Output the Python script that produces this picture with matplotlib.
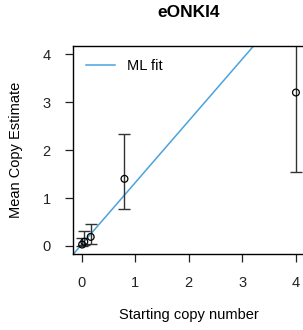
import numpy as np
import matplotlib
matplotlib.use('Agg')
import matplotlib.pyplot as plt

plt.rcParams['font.family'] = ['Liberation Sans', 'DejaVu Sans']

# data
start_copy = [0.01, 0.05, 0.17, 0.8, 4.0]
mean_est = [0.03, 0.09, 0.19, 1.4, 3.2]
lower = [-0.01, 0.02, 0.05, 0.77, 1.55]
upper = [0.17, 0.31, 0.46, 2.33, 5.0]
fit_slope = 1.29
fit_icpt = 0.03

x = np.array(start_copy)
y = np.array(mean_est)
yerr = np.vstack([y - np.array(lower), np.array(upper) - y])

fig = plt.figure(figsize=(3.03, 3.30), dpi=100)
ax = fig.add_axes([0.241, 0.2303, 0.764, 0.6303])

xx = np.array([-1, 6])
ax.plot(xx, fit_icpt + fit_slope * xx, color='#4BA3DB', lw=1.1, label='ML fit')
ax.errorbar(x, y, yerr=yerr, fmt='none', ecolor='#333333', elinewidth=1.0, capsize=4.5, capthick=1.0)
ax.scatter(x, y, s=24, facecolors='none', edgecolors='black', linewidths=0.9, zorder=3)

ax.set_xlim(-0.16, 4.16)
ax.set_ylim(-0.167, 4.17)
ax.set_xticks([0, 1, 2, 3, 4])
ax.set_yticks([0, 1, 2, 3, 4])
ax.tick_params(direction='out', length=6, width=0.9, labelsize=10.5, colors='#222222')
ax.tick_params(axis='x', pad=10)
ax.tick_params(axis='y', pad=10)
for s in ['left', 'bottom', 'top']:
    ax.spines[s].set_linewidth(1.0)
ax.spines['right'].set_visible(False)

ax.set_title('eONKI4', fontsize=12.5, fontweight='bold', pad=21)
ax.set_xlabel('Starting copy number', fontsize=10.5, labelpad=13)
ax.set_ylabel('Mean Copy Estimate', fontsize=10.5, labelpad=14)
ax.legend(loc='upper left', frameon=False, fontsize=10.5, handlelength=2.0, borderaxespad=0.5)

fig.savefig('out.png', dpi=100)
